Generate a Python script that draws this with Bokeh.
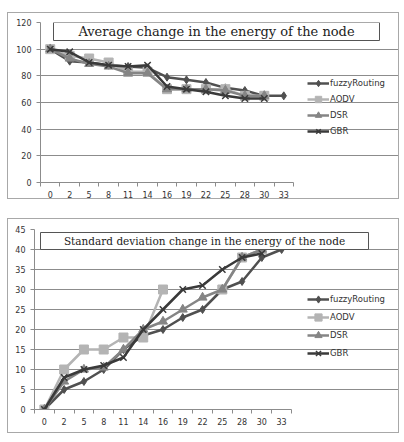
from bokeh.plotting import figure
from bokeh.models import (FixedTicker, Legend, LegendItem, Label, BoxAnnotation,
                          ColumnDataSource, Range1d)
from bokeh.embed import file_html
from bokeh.resources import INLINE

nan = float("nan")

x_labels = ["0", "2", "5", "8", "11", "14", "16", "19", "22", "25", "28", "30", "33"]
series_names = ["fuzzyRouting", "AODV", "DSR", "GBR"]

# Average change in the energy of the node
avg_fuzzy = [100, 91, 90, 88, 87, 86, 79, 77, 75, 71, 69, 65, 65]
avg_aodv = [100, 95, 93, 90, 83, 83, 70, 70, 70, 70, 65, 65, nan]
avg_dsr = [100, 93, 89, 87, 82, 82, 70, 70, 70, 69, 65, 65, nan]
avg_gbr = [100, 98, 90, 88, 87, 88, 72, 70, 68, 65, 63, 63, nan]

# Standard deviation change in the energy of the node
std_fuzzy = [0, 5, 7, 10, 15, 18.5, 20, 23, 25, 30, 32, 38, 40]
std_aodv = [0, 10, 15, 15, 18, 18, 30, nan, nan, 30, 38, 40, nan]
std_dsr = [0, 7, 10, 10.5, 15, 20, 22, 25, 28, 30, 38, 40, nan]
std_gbr = [0, 8, 10, 11, 13, 20, 25, 30, 31, 35, 38, 39, nan]

colors = ["#505050", "#b4b4b4", "#858585", "#3a3a3a"]
markers = ["diamond", "square", "triangle", "x"]
msizes = [8, 9, 9, 9]

GRID = "#8c8c8c"
TICKFONT = "DejaVu Sans"


def make_chart(series, y_max, y_step, title, title_size, width, height, margin,
               borders, data_w, title_box, title_xy, legend_loc, glyph_h):
    bl, bt, bb, br = borders
    n = len(x_labels)
    frame_w = width - bl - br
    x_end = -0.5 + n * frame_w / data_w
    p = figure(width=width, height=height, output_backend="svg", toolbar_location=None,
               x_range=Range1d(-0.5, x_end), y_range=Range1d(0, y_max),
               min_border_left=bl, min_border_top=bt, min_border_bottom=bb,
               min_border_right=br, margin=margin,
               styles={"border": "1px solid #a8a8a8", "box-sizing": "border-box"})
    p.outline_line_color = None
    p.background_fill_color = "white"
    p.border_fill_color = "white"

    idx = list(range(n))
    p.xaxis.bounds = (-0.5, n - 0.5)
    p.xaxis.ticker = FixedTicker(ticks=idx, minor_ticks=[i - 0.5 for i in range(n + 1)])
    p.xaxis.major_label_overrides = {i: lab for i, lab in enumerate(x_labels)}
    p.xaxis.major_tick_out = 0
    p.xaxis.major_tick_in = 0
    p.xaxis.minor_tick_out = 4
    p.xaxis.minor_tick_in = 0
    p.xaxis.minor_tick_line_color = GRID
    p.xaxis.axis_line_color = GRID
    p.xaxis.major_label_standoff = 4
    p.xaxis.major_label_text_font = TICKFONT
    p.xaxis.major_label_text_font_size = "8px"
    p.xaxis.major_label_text_color = "#333333"
    p.xgrid.grid_line_color = None

    yt = list(range(0, y_max + 1, y_step))
    p.yaxis.ticker = FixedTicker(ticks=yt, minor_ticks=[])
    p.yaxis.major_tick_out = 4
    p.yaxis.major_tick_in = 0
    p.yaxis.major_tick_line_color = GRID
    p.yaxis.axis_line_color = GRID
    p.yaxis.major_label_standoff = 5
    p.yaxis.major_label_text_font = TICKFONT
    p.yaxis.major_label_text_font_size = "8px"
    p.yaxis.major_label_text_color = "#333333"
    p.ygrid.grid_line_color = GRID
    p.ygrid.grid_line_width = 1
    p.ygrid.bounds = (-0.5, n - 0.5)

    items = []
    for name, vals, c, m, s in zip(series_names, series, colors, markers, msizes):
        src = ColumnDataSource(dict(x=idx, y=vals))
        ln = p.line("x", "y", source=src, line_color=c, line_width=2.5)
        sc = p.scatter("x", "y", source=src, marker=m, size=s, fill_color=c,
                       line_color=c, line_width=1.5 if m == "x" else 1)
        items.append(LegendItem(label=name, renderers=[ln, sc]))

    leg = Legend(items=items, location=legend_loc, orientation="vertical",
                 border_line_alpha=0, background_fill_alpha=0, padding=0, margin=0,
                 glyph_width=22, glyph_height=glyph_h, spacing=0, label_standoff=1,
                 label_text_font=TICKFONT, label_text_font_size="8.5px",
                 label_text_color="#333333", label_height=glyph_h)
    p.add_layout(leg)

    l, r, t, b = title_box
    box = BoxAnnotation(left=l, right=r, top=t, bottom=b,
                        left_units="screen", right_units="screen",
                        top_units="screen", bottom_units="screen",
                        fill_color="white", fill_alpha=1.0,
                        line_color="#555555", line_width=1, line_alpha=1.0)
    p.add_layout(box)
    lab = Label(x=title_xy[0], y=title_xy[1], x_units="screen", y_units="screen",
                text=title, text_align="center", text_baseline="middle",
                text_font="DejaVu Serif", text_font_size=title_size, text_color="#222222")
    p.add_layout(lab)
    return p


p1 = make_chart([avg_fuzzy, avg_aodv, avg_dsr, avg_gbr], 120, 20,
                "Average change in the energy of the node", "13px",
                392, 187, (12, 0, 0, 7), (32, 9, 15, 2), 253,
                (13, 339, 160, 142), (176, 151), (267, 43), 16)

p2 = make_chart([std_fuzzy, std_aodv, std_dsr, std_gbr], 45, 5,
                "Standard deviation change in the energy of the node", "10.5px",
                392, 215, (19, 0, 0, 7), (26, 10, 25, 2), 257,
                (6, 334, 177, 160), (170, 168.5), (273, 47), 18)

open("out.html", "w").write(file_html([p1, p2], INLINE))
